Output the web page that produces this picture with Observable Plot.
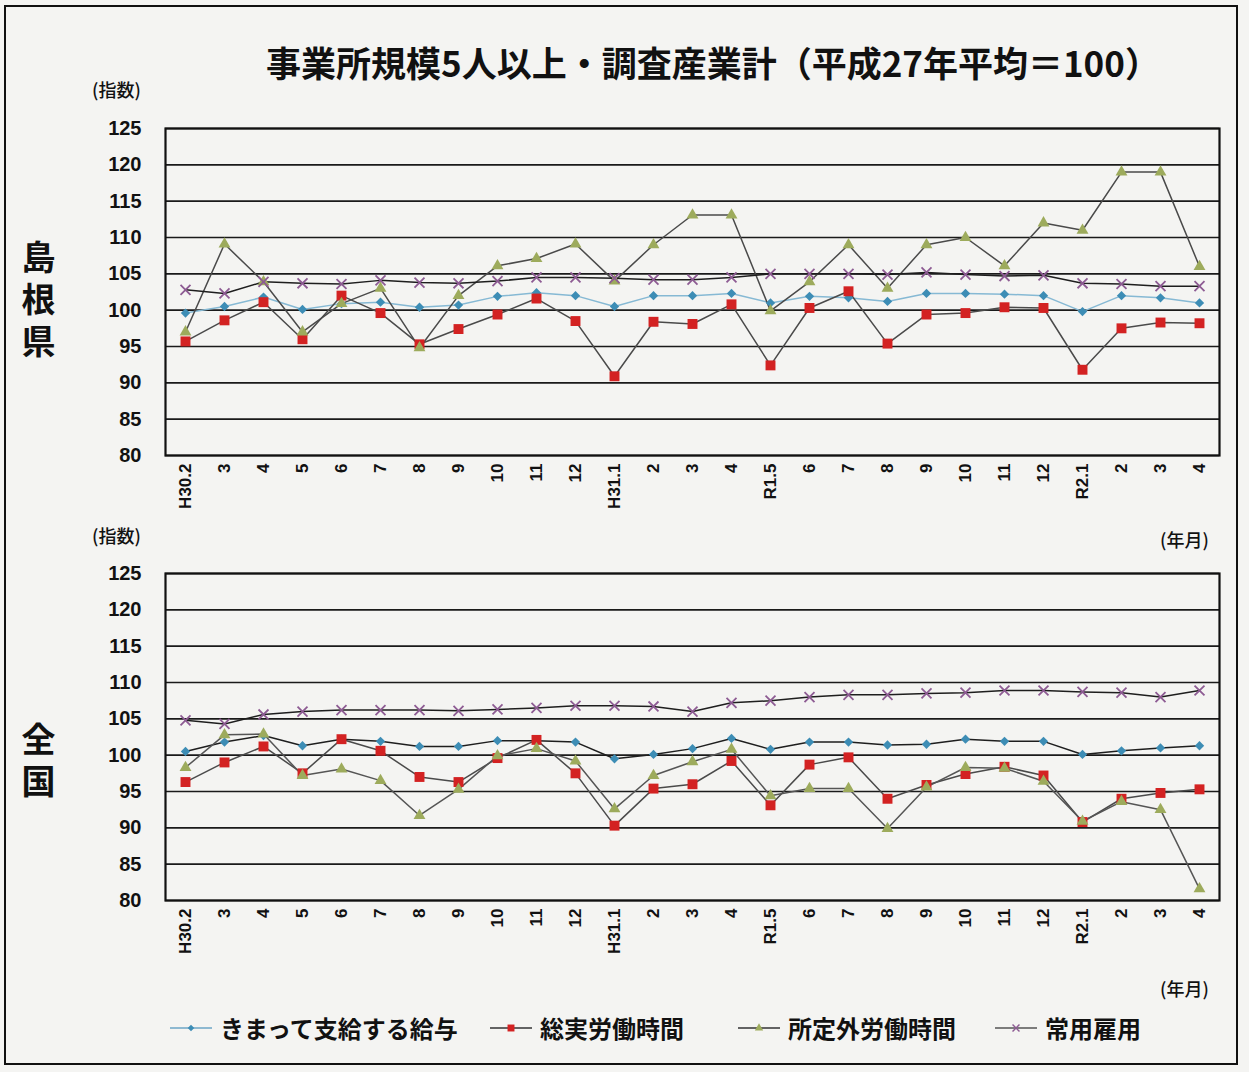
<!DOCTYPE html>
<html>
<head>
<meta charset="utf-8">
<script src="https://cdn.jsdelivr.net/npm/d3@7"></script>
<script src="https://cdn.jsdelivr.net/npm/@observablehq/plot@0.6"></script>
<style>
  html, body { margin: 0; padding: 0; background: #f4f4f2; }
  #page { position: relative; width: 1249px; height: 1072px; overflow: hidden; background: #f4f4f2;
          font-family: "Noto Sans CJK JP", "Noto Sans", sans-serif; color: #111; }
  .abs { position: absolute; }
  #border { left: 4px; top: 5px; width: 1234px; height: 1060px; border: 2px solid #111; box-sizing: border-box; }
  #title { left: 266px; top: 36px; white-space: nowrap; font-size: 35px; font-weight: 700; }
  .unit { font-size: 18px; font-weight: 500; }
  .region { writing-mode: vertical-rl; font-size: 34px; font-weight: 700; letter-spacing: 8px; }
  #legend { left: 0; top: 1010px; width: 1249px; font-size: 24px; font-weight: 700; }
  .li { position: absolute; display: flex; align-items: center; white-space: nowrap; }
  .li svg { margin-right: 6px; }
</style>
</head>
<body>
<div id="page">
  <div id="border" class="abs"></div>
  <div id="title" class="abs">事業所規模5人以上・調査産業計（平成27年平均＝100）</div>
  <div class="abs unit" style="left:92px; top:76px;">(指数)</div>
  <div class="abs unit" style="left:92px; top:522px;">(指数)</div>
  <div class="abs unit" style="left:1160px; top:526px;">(年月)</div>
  <div class="abs unit" style="left:1160px; top:975px;">(年月)</div>
  <div class="abs region" style="left:14px; top:240px;">島根県</div>
  <div class="abs region" style="left:14px; top:722px;">全国</div>
  <div id="top" class="abs" style="left:0; top:110px;"></div>
  <div id="bottom" class="abs" style="left:0; top:555px;"></div>
  <div id="legend" class="abs"></div>
</div>
<script>
// ---- data ----
const categories = ["H30.2","3","4","5","6","7","8","9","10","11","12","H31.1","2","3","4","R1.5","6","7","8","9","10","11","12","R2.1","2","3","4"];
const yTicks = [80, 85, 90, 95, 100, 105, 110, 115, 120, 125];
const seriesNames = ["きまって支給する給与", "総実労働時間", "所定外労働時間", "常用雇用"];

// 島根県
const shimaneWage     = [99.6, 100.5, 101.8, 100.1, 100.9, 101.1, 100.4, 100.7, 101.9, 102.4, 102.0, 100.5, 102.0, 102.0, 102.3, 101.0, 101.9, 101.7, 101.2, 102.3, 102.3, 102.2, 102.0, 99.8, 102.0, 101.7, 101.0];
const shimaneHours    = [95.7, 98.6, 101.1, 96.0, 102.0, 99.6, 95.3, 97.4, 99.4, 101.6, 98.5, 90.9, 98.4, 98.1, 100.8, 92.4, 100.3, 102.6, 95.4, 99.4, 99.6, 100.4, 100.3, 91.8, 97.5, 98.3, 98.2];
const shimaneOvertime = [97.0, 109.1, 103.9, 97.0, 100.9, 103.0, 94.8, 102.0, 106.1, 107.1, 109.1, 104.0, 109.0, 113.1, 113.1, 99.9, 103.9, 109.0, 103.0, 109.0, 110.0, 106.1, 112.0, 111.0, 119.0, 119.0, 106.0];
const shimaneEmploy   = [102.8, 102.3, 103.9, 103.7, 103.6, 104.1, 103.8, 103.7, 104.0, 104.5, 104.5, 104.4, 104.2, 104.2, 104.5, 105.0, 105.0, 105.0, 104.9, 105.2, 104.9, 104.7, 104.8, 103.7, 103.6, 103.3, 103.3];

// 全国
const zenkokuWage     = [100.5, 101.8, 102.7, 101.3, 102.2, 101.9, 101.2, 101.2, 102.0, 102.0, 101.8, 99.5, 100.1, 100.9, 102.3, 100.8, 101.8, 101.8, 101.4, 101.5, 102.2, 101.9, 101.9, 100.1, 100.6, 101.0, 101.3];
const zenkokuHours    = [96.3, 99.0, 101.2, 97.5, 102.2, 100.6, 97.0, 96.3, 99.6, 102.1, 97.5, 90.3, 95.4, 96.0, 99.2, 93.1, 98.7, 99.7, 94.0, 95.9, 97.4, 98.4, 97.2, 90.8, 94.0, 94.8, 95.3];
const zenkokuOvertime = [98.3, 102.8, 102.9, 97.2, 98.1, 96.5, 91.7, 95.3, 99.9, 100.9, 99.2, 92.6, 97.2, 99.1, 100.8, 94.4, 95.4, 95.4, 89.9, 95.6, 98.3, 98.2, 96.4, 90.9, 93.6, 92.5, 81.6];
const zenkokuEmploy   = [104.8, 104.3, 105.6, 106.0, 106.2, 106.2, 106.2, 106.1, 106.3, 106.5, 106.8, 106.8, 106.7, 106.0, 107.2, 107.5, 108.0, 108.3, 108.3, 108.5, 108.6, 108.9, 108.9, 108.7, 108.6, 108.0, 108.9];

// ---- styles ----
const markerColors = ["#3d8db5", "#d32222", "#9dab5c", "#8d5b93"];
const symbols = ["diamond2", "square", "triangle", "times"];
const radii = [4.2, 5.6, 4.4, 4.6];

function table(arrs) {
  const rows = [];
  arrs.forEach((arr, s) => arr.forEach((v, i) => rows.push({i, v, s})));
  return rows;
}

function chart(arrs, lineColors) {
  const rows = table(arrs);
  const marks = [
    Plot.ruleY(yTicks, {stroke: "#1a1a1a", strokeWidth: 1.7}),
    Plot.frame({stroke: "#111", strokeWidth: 2.2})
  ];
  for (let s = 0; s < 4; s++) {
    const d = rows.filter(r => r.s === s);
    marks.push(Plot.line(d, {x: "i", y: "v", stroke: lineColors[s], strokeWidth: 1.5}));
  }
  for (let s = 0; s < 4; s++) {
    const d = rows.filter(r => r.s === s);
    if (symbols[s] === "times") {
      marks.push(Plot.dot(d, {x: "i", y: "v", symbol: "times", r: radii[s], stroke: markerColors[s], strokeWidth: 1.8}));
    } else {
      marks.push(Plot.dot(d, {x: "i", y: "v", symbol: symbols[s], r: radii[s], fill: markerColors[s], stroke: "none"}));
    }
  }
  marks.push(Plot.axisY({ticks: yTicks, tickSize: 0, tickPadding: 24, fontSize: 20, fontWeight: "bold"}));
  marks.push(Plot.axisX({ticks: d3.range(categories.length), tickFormat: i => categories[i], tickRotate: -90, tickSize: 0, tickPadding: 8, fontSize: 17, fontWeight: "bold"}));
  return Plot.plot({
    width: 1249,
    height: 405,
    marginTop: 18,
    marginBottom: 60,
    marginLeft: 165,
    marginRight: 30,
    style: {background: "transparent", fontFamily: "'Liberation Sans', Arial, sans-serif", color: "#111", overflow: "visible"},
    x: {type: "point", domain: d3.range(categories.length), padding: 0.5, label: null},
    y: {domain: [80, 125], label: null},
    marks
  });
}

document.getElementById("top").appendChild(
  chart([shimaneWage, shimaneHours, shimaneOvertime, shimaneEmploy], ["#86b9d4", "#4a4a4a", "#4a4a4a", "#1e1e1e"]));
document.getElementById("bottom").appendChild(
  chart([zenkokuWage, zenkokuHours, zenkokuOvertime, zenkokuEmploy], ["#1e1e1e", "#4a4a4a", "#555555", "#1e1e1e"]));

// ---- legend ----
const legendX = [168, 488, 736, 993];
const legend = document.getElementById("legend");
const lineCol = ["#6da6c6", "#333", "#333", "#555"];
const symMap = {diamond2: "Diamond2", square: "Square", triangle: "Triangle", times: "Times"};
seriesNames.forEach((name, s) => {
  const item = document.createElement("div");
  item.className = "li";
  item.style.left = legendX[s] + "px";
  item.style.top = "0px";
  const sym = d3.symbol(d3["symbol" + symMap[symbols[s]]], Math.PI * radii[s] * radii[s])();
  const isStroke = symbols[s] === "times";
  item.innerHTML = `<svg width="46" height="20" viewBox="0 0 46 20">
      <line x1="2" y1="10" x2="44" y2="10" stroke="${lineCol[s]}" stroke-width="1.6"/>
      <path d="${sym}" transform="translate(23,10) scale(0.7)" ${isStroke ? `fill="none" stroke="${markerColors[s]}" stroke-width="2"` : `fill="${markerColors[s]}"`}/>
    </svg><span>${name}</span>`;
  legend.appendChild(item);
});
</script>
</body>
</html>
